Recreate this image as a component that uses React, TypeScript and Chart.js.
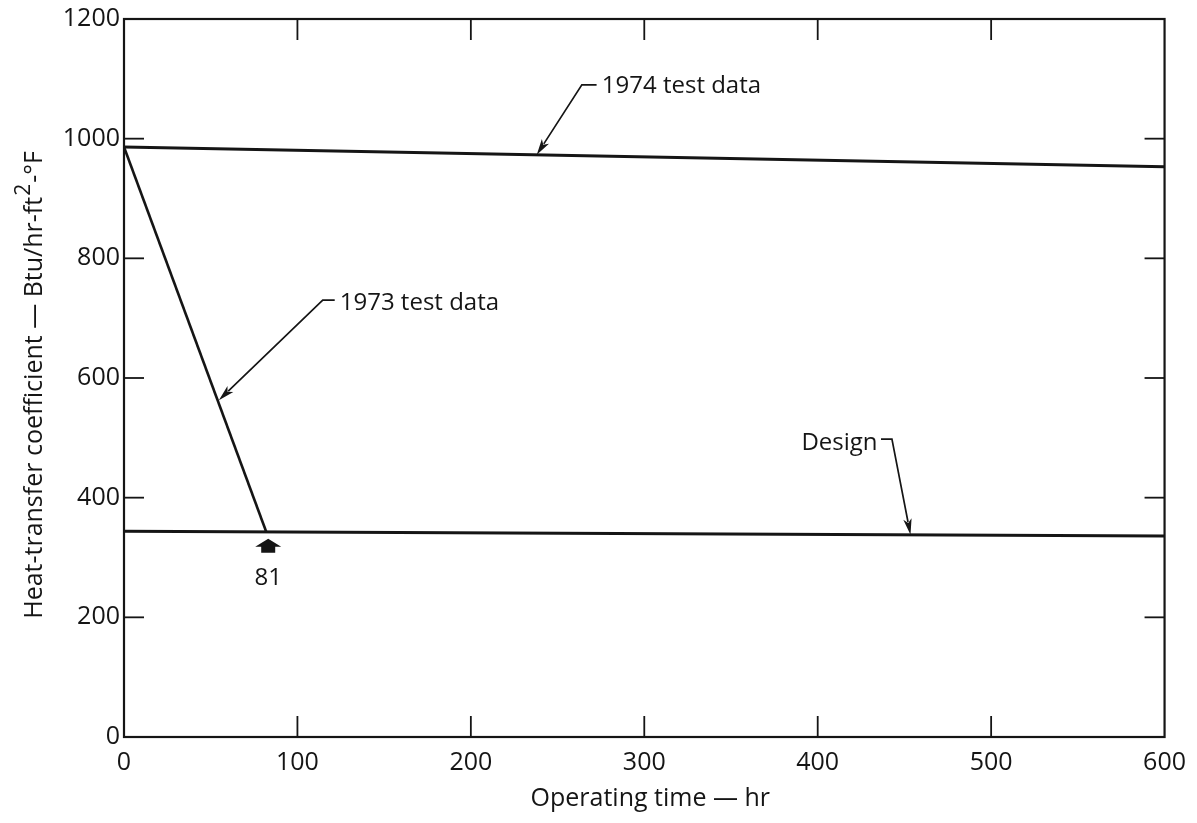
import React, { useEffect, useRef } from "react";
import { Chart, registerables } from "chart.js";

Chart.register(...registerables);

// ---- data ----
const timeTicks = [0, 100, 200, 300, 400, 500, 600];
const coeffTicks = [0, 200, 400, 600, 800, 1000, 1200];

const test1974Time = [0, 600];
const test1974Coeff = [986, 953];

const test1973Time = [0, 82];
const test1973Coeff = [986, 343];

const designTime = [0, 600];
const designCoeff = [344, 336];

const markerTime = 82;
const markerLabel = "81";

const xTitle = "Operating time \u2014 hr";
const yTitleMain = "Heat-transfer coefficient \u2014 Btu/hr-ft";
const yTitleSup = "2";
const yTitleEnd = "-\u00b0F";

// annotation callouts (data coordinates)
const notes = [
  { text: "1974 test data", tip: [238, 973], elbow: [264, 1090], hEnd: [272.5, 1090], textAt: [275.5, 1076], align: "left" },
  { text: "1973 test data", tip: [54.7, 563], elbow: [114.6, 730], hEnd: [121.5, 730], textAt: [124.4, 714], align: "left" },
  { text: "Design", tip: [453.5, 338], elbow: [442.8, 498], hEnd: [436.5, 498], textAt: [434.5, 480], align: "right" },
];

const INK = "#151515";
const FONT = '"Open Sans", "DejaVu Sans", sans-serif';

const toXY = (xs: number[], ys: number[]) => xs.map((x, i) => ({ x, y: ys[i] }));

const decorPlugin = {
  id: "decor",
  afterDraw(chart: any) {
    const { ctx, chartArea: a, scales } = chart;
    const xs = scales.x;
    const ys = scales.y;
    const px = (t: number) => xs.getPixelForValue(t);
    const py = (v: number) => ys.getPixelForValue(v);
    const line = (x1: number, y1: number, x2: number, y2: number) => {
      ctx.beginPath();
      ctx.moveTo(x1, y1);
      ctx.lineTo(x2, y2);
      ctx.stroke();
    };
    ctx.save();
    ctx.strokeStyle = INK;
    ctx.fillStyle = INK;
    ctx.lineCap = "butt";

    // frame
    ctx.lineWidth = 2.2;
    ctx.strokeRect(a.left, a.top, a.right - a.left, a.bottom - a.top);

    // inner tick marks on all four sides
    ctx.lineWidth = 1.8;
    timeTicks.slice(1, -1).forEach((t) => {
      const X = px(t);
      line(X, a.bottom, X, a.bottom - 21);
      line(X, a.top, X, a.top + 21);
    });
    coeffTicks.slice(1, -1).forEach((v) => {
      const Y = py(v);
      line(a.left, Y, a.left + 20, Y);
      line(a.right, Y, a.right - 20, Y);
    });

    // callouts
    ctx.font = `24px ${FONT}`;
    ctx.textBaseline = "alphabetic";
    notes.forEach((n) => {
      const tx = px(n.tip[0]);
      const ty = py(n.tip[1]);
      const ex = px(n.elbow[0]);
      const ey = py(n.elbow[1]);
      const hx = px(n.hEnd[0]);
      const hy = py(n.hEnd[1]);
      const dx = tx - ex;
      const dy = ty - ey;
      const len = Math.hypot(dx, dy);
      const ux = dx / len;
      const uy = dy / len;
      const headLen = 16;
      const headHalf = 4.2;
      const bx = tx - ux * headLen;
      const by = ty - uy * headLen;
      ctx.lineWidth = 1.7;
      ctx.beginPath();
      ctx.moveTo(hx, hy);
      ctx.lineTo(ex, ey);
      ctx.lineTo(bx + ux * 3, by + uy * 3);
      ctx.stroke();
      ctx.beginPath();
      ctx.moveTo(tx, ty);
      ctx.lineTo(bx - uy * headHalf, by + ux * headHalf);
      ctx.lineTo(bx + ux * 4, by + uy * 4);
      ctx.lineTo(bx + uy * headHalf, by - ux * headHalf);
      ctx.closePath();
      ctx.fill();
      ctx.textAlign = n.align as CanvasTextAlign;
      ctx.fillText(n.text, px(n.textAt[0]), py(n.textAt[1]));
    });

    // "81" marker below end of 1973 line
    const mx = px(markerTime) + 2;
    const my = py(test1973Coeff[test1973Coeff.length - 1]);
    ctx.beginPath();
    ctx.moveTo(mx, my + 7);
    ctx.lineTo(mx + 13, my + 15);
    ctx.lineTo(mx + 7, my + 15);
    ctx.lineTo(mx + 7, my + 21);
    ctx.lineTo(mx - 7, my + 21);
    ctx.lineTo(mx - 7, my + 15);
    ctx.lineTo(mx - 13, my + 15);
    ctx.closePath();
    ctx.fill();
    ctx.textAlign = "center";
    ctx.fillText(markerLabel, mx, my + 53);

    // x title
    ctx.font = `25px ${FONT}`;
    ctx.textAlign = "center";
    ctx.fillText(xTitle, (a.left + a.right) / 2 + 6, a.bottom + 69);

    // y title (rotated, with superscript)
    ctx.translate(42, (a.top + a.bottom) / 2 + 7);
    ctx.rotate(-Math.PI / 2);
    ctx.textAlign = "left";
    ctx.font = `25px ${FONT}`;
    const w1 = ctx.measureText(yTitleMain).width;
    const w3 = ctx.measureText(yTitleEnd).width;
    ctx.font = `21px ${FONT}`;
    const w2 = ctx.measureText(yTitleSup).width;
    const total = w1 + w2 + w3 + 2;
    let cx = -total / 2;
    ctx.font = `25px ${FONT}`;
    ctx.fillText(yTitleMain, cx, 0);
    cx += w1 + 1;
    ctx.font = `21px ${FONT}`;
    ctx.fillText(yTitleSup, cx, -12);
    cx += w2 + 1;
    ctx.font = `25px ${FONT}`;
    ctx.fillText(yTitleEnd, cx, 0);

    ctx.restore();
  },
};

export default function App() {
  const ref = useRef<HTMLCanvasElement>(null);

  useEffect(() => {
    document.body.style.margin = "0";
    let chart: Chart | null = null;
    let cancelled = false;

    const build = () => {
      if (cancelled || !ref.current) return;
      const lineStyle = {
        borderColor: INK,
        backgroundColor: INK,
        borderWidth: 3,
        pointRadius: 0,
        tension: 0,
        fill: false,
      };
      chart = new Chart(ref.current, {
        type: "line",
        data: {
          datasets: [
            { label: "1974 test data", data: toXY(test1974Time, test1974Coeff), ...lineStyle },
            { label: "1973 test data", data: toXY(test1973Time, test1973Coeff), ...lineStyle, borderWidth: 2.6 },
            { label: "Design", data: toXY(designTime, designCoeff), ...lineStyle },
          ],
        },
        options: {
          responsive: false,
          animation: false,
          devicePixelRatio: 1,
          layout: { padding: { top: 19, right: 30, left: 0, bottom: 0 } },
          plugins: {
            legend: { display: false },
            tooltip: { enabled: false },
            title: { display: false },
          },
          scales: {
            x: {
              type: "linear",
              min: timeTicks[0],
              max: timeTicks[timeTicks.length - 1],
              afterBuildTicks: (s: any) => {
                s.ticks = timeTicks.map((v) => ({ value: v }));
              },
              afterFit: (s: any) => {
                s.height = 86;
              },
              grid: { display: false, drawTicks: false },
              border: { display: false },
              ticks: {
                padding: 11,
                maxRotation: 0,
                autoSkip: false,
                color: INK,
                font: { family: FONT, size: 25 },
                callback: (v: any) => String(v),
              },
            },
            y: {
              type: "linear",
              min: coeffTicks[0],
              max: coeffTicks[coeffTicks.length - 1],
              afterBuildTicks: (s: any) => {
                s.ticks = coeffTicks.map((v) => ({ value: v }));
              },
              afterFit: (s: any) => {
                s.width = 124;
              },
              grid: { display: false, drawTicks: false },
              border: { display: false },
              ticks: {
                padding: 4,
                autoSkip: false,
                color: INK,
                font: { family: FONT, size: 25 },
                callback: (v: any) => String(v),
              },
            },
          },
        },
        plugins: [decorPlugin],
      } as any);
    };

    if ((document as any).fonts && (document as any).fonts.load) {
      Promise.all([
        (document as any).fonts.load(`24px "Open Sans"`),
      ]).then(build, build);
    } else {
      build();
    }

    return () => {
      cancelled = true;
      if (chart) chart.destroy();
    };
  }, []);

  return (
    <div style={{ width: 1197, height: 823, background: "#fff" }}>
      <canvas ref={ref} width={1197} height={823} style={{ display: "block" }} />
    </div>
  );
}
